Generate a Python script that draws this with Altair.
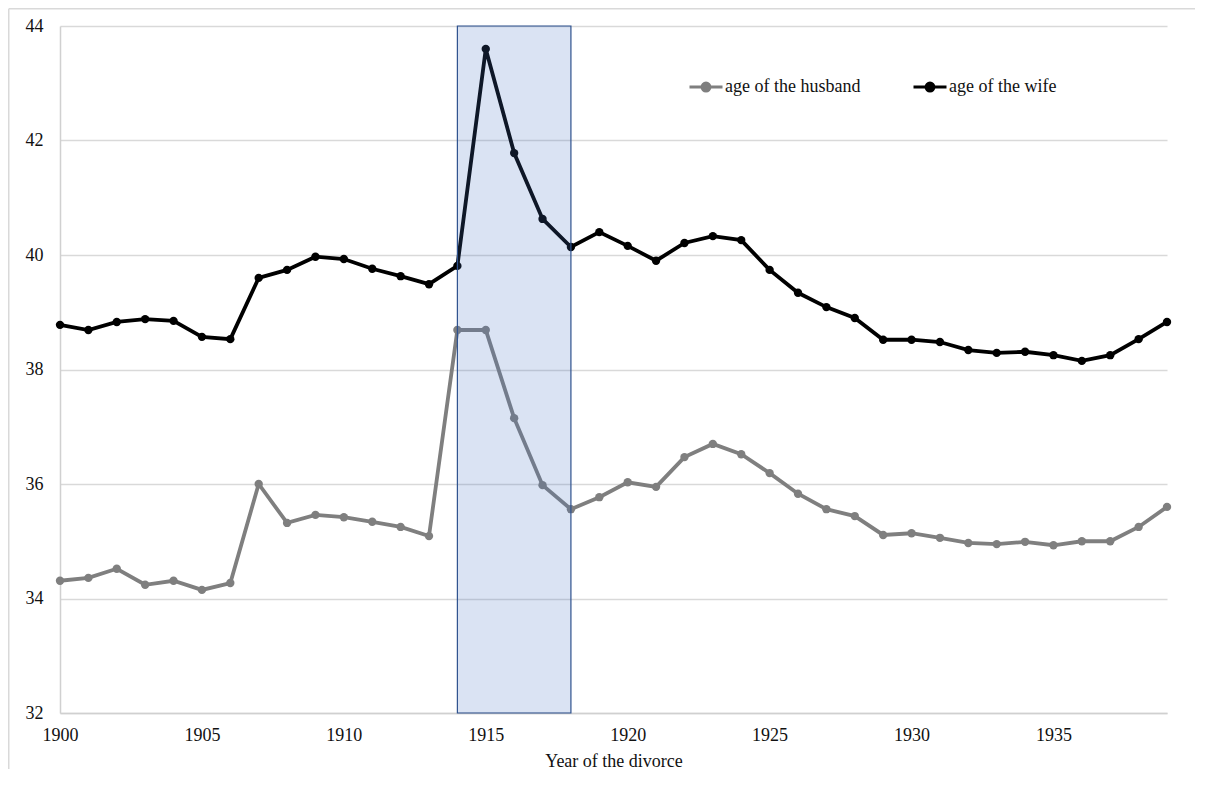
import altair as alt
import pandas as pd

years = list(range(1900, 1940))
husband = [34.31, 34.36, 34.52, 34.24, 34.31, 34.15, 34.27, 36.00, 35.32, 35.46,
           35.42, 35.34, 35.25, 35.09, 38.69, 38.69, 37.15, 35.98, 35.56, 35.77,
           36.03, 35.95, 36.47, 36.70, 36.52, 36.19, 35.83, 35.56, 35.44, 35.11,
           35.14, 35.06, 34.97, 34.95, 34.99, 34.93, 35.00, 35.00, 35.25, 35.60]
wife = [38.78, 38.69, 38.83, 38.88, 38.85, 38.57, 38.53, 39.60, 39.74, 39.97,
        39.93, 39.76, 39.63, 39.49, 39.81, 43.60, 41.78, 40.63, 40.14, 40.40,
        40.16, 39.90, 40.21, 40.33, 40.26, 39.74, 39.34, 39.09, 38.90, 38.52,
        38.52, 38.48, 38.34, 38.29, 38.31, 38.25, 38.15, 38.25, 38.53, 38.83]
series_names = ["age of the husband", "age of the wife"]
series_colors = ["#7f7f7f", "#000000"]
band_start = [1914]
band_end = [1918]
band_low = [32]
band_high = [44]

rows = []
for y, h, w in zip(years, husband, wife):
    rows.append({"year": y, "series": series_names[0], "age": h})
    rows.append({"year": y, "series": series_names[1], "age": w})
df = pd.DataFrame(rows)
band = pd.DataFrame({"x1": band_start, "x2": band_end, "y1": band_low, "y2": band_high})

FONT = "Liberation Serif"

xscale = alt.Scale(domain=[1900, 1939], nice=False, zero=False)
yscale = alt.Scale(domain=[32, 44], nice=False, zero=False)
cscale = alt.Scale(domain=series_names, range=series_colors)

sym = "M-1,0L-0.24,0M0.24,0L1,0M0.24,0A0.24,0.24 0 1,1 -0.24,0A0.24,0.24 0 1,1 0.24,0"

legend = alt.Legend(
    title=None, orient="none", legendX=628, legendY=43, direction="horizontal",
    symbolType=sym, symbolSize=1089, symbolStrokeWidth=3,
    labelFont=FONT, labelFontSize=18, labelColor="#111", labelOffset=1,
    columnPadding=46,
)

xaxis = alt.Axis(title="Year of the divorce", values=list(range(1900, 1940, 5)), format="d",
                 grid=False, ticks=False, domainColor="#d0d0d0", domainWidth=1.5,
                 labelFont=FONT, labelFontSize=18, labelColor="#111", labelPadding=13,
                 titleFont=FONT, titleFontSize=18, titleFontWeight="normal",
                 titleColor="#111", titlePadding=8, labelFlush=False)
yaxis = alt.Axis(title=None, values=list(range(32, 45, 2)), format="d", grid=True,
                 gridColor="#d9d9d9", gridWidth=1.5, ticks=False,
                 domainColor="#d0d0d0", domainWidth=1.5,
                 labelFont=FONT, labelFontSize=18, labelColor="#111", labelPadding=17)

base = alt.Chart(df)
lines = base.mark_line(strokeWidth=3.8).encode(
    x=alt.X("year:Q", scale=xscale, axis=xaxis),
    y=alt.Y("age:Q", scale=yscale, axis=yaxis),
    color=alt.Color("series:N", scale=cscale, legend=legend),
)
points = base.mark_point(filled=True, size=70, opacity=1).encode(
    x="year:Q", y="age:Q",
    fill=alt.Fill("series:N", scale=cscale, legend=legend),
    color=alt.Color("series:N", scale=cscale, legend=legend),
)
rect = alt.Chart(band).mark_rect(fill="#4472c4", fillOpacity=0.2, stroke="#2f528f",
                                 strokeWidth=1.2).encode(
    x="x1:Q", x2="x2", y="y1:Q", y2="y2")

frame_top = alt.Chart(band).mark_rule(color="#d9d9d9", strokeWidth=1.5, clip=False).encode(
    x=alt.value(-51.25), x2=alt.value(1160), y=alt.value(-17.25))
frame_left = alt.Chart(band).mark_rule(color="#d9d9d9", strokeWidth=1.5, clip=False).encode(
    x=alt.value(-51.25), y=alt.value(-17.25), y2=alt.value(760))

chart = alt.layer(frame_top, frame_left, lines, points, rect).properties(
    width=1107, height=687,
    background="white",
    autosize=alt.AutoSizeParams(type="none"),
    padding={"left": 52, "top": 18, "right": 28, "bottom": 56},
).configure_view(strokeWidth=0, stroke=None)

chart.save("out.html", embed_options={"renderer": "svg", "actions": False})
